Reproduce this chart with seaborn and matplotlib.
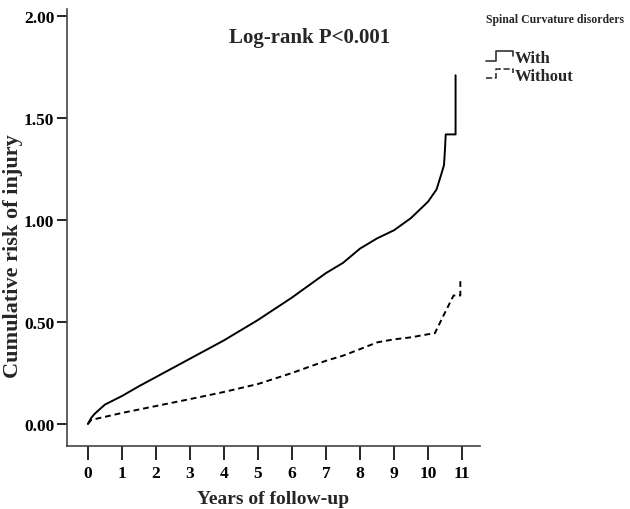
import numpy as np
import pandas as pd
import matplotlib
matplotlib.use("Agg")
import matplotlib.pyplot as plt
from matplotlib.lines import Line2D
from matplotlib.legend_handler import HandlerLine2D
import seaborn as sns

# -------------------- data --------------------
with_years = [0, 0.1, 0.2, 0.5, 1, 1.5, 2, 3, 4, 5, 6, 7, 7.5, 8, 8.5, 9, 9.5,
              10, 10.25, 10.4, 10.47, 10.5, 10.52, 10.81, 10.81]
with_risk = [0, 0.03, 0.05, 0.095, 0.137, 0.185, 0.23, 0.32, 0.41, 0.51, 0.62,
             0.74, 0.79, 0.86, 0.91, 0.95, 1.01, 1.09, 1.15, 1.23, 1.27, 1.35,
             1.42, 1.42, 1.71]

without_years = [0, 0.1, 0.5, 1, 2, 3, 4, 5, 6, 7, 7.5, 8, 8.5, 9, 9.5, 10,
                 10.2, 10.45, 10.75, 10.95, 10.95]
without_risk = [0, 0.02, 0.035, 0.054, 0.088, 0.122, 0.157, 0.196, 0.25, 0.31,
                0.335, 0.367, 0.40, 0.415, 0.425, 0.44, 0.445, 0.53, 0.63,
                0.63, 0.70]

x_ticks = list(range(0, 12))
y_ticks = [0.0, 0.5, 1.0, 1.5, 2.0]
group_labels = ["With", "Without"]

df = pd.concat([
    pd.DataFrame({"years": with_years, "risk": with_risk, "group": "With"}),
    pd.DataFrame({"years": without_years, "risk": without_risk, "group": "Without"}),
], ignore_index=True)


# SPSS-like step shaped legend handle
class StepHandler(HandlerLine2D):
    def create_artists(self, legend, orig_handle, xdescent, ydescent,
                       width, height, fontsize, trans):
        x0 = -xdescent
        xs = [x0, x0 + 0.35 * width, x0 + 0.35 * width, x0 + width, x0 + width]
        ys = [0.1 * height, 0.1 * height, 0.95 * height, 0.95 * height, 0.55 * height]
        ln = Line2D(xs, ys, color=orig_handle.get_color(),
                    linestyle=orig_handle.get_linestyle(),
                    linewidth=orig_handle.get_linewidth())
        ln.set_transform(trans)
        return [ln]


sns.set_style("white")
plt.rcParams["font.family"] = ["Liberation Serif", "DejaVu Serif"]
plt.rcParams["font.weight"] = "bold"

fig = plt.figure(figsize=(6.3, 5.1), dpi=100)
ax = fig.add_axes([0.106, 0.1235, 0.656, 0.8565])

styles = {"With": "-", "Without": (0, (3, 2))}
for g in group_labels:
    sub = df[df["group"] == g]
    sns.lineplot(data=sub, x="years", y="risk", estimator=None, sort=False,
                 color="black", linestyle=styles[g], linewidth=1.4, ax=ax)

ax.set_xlim(-0.62, 11.53)
ax.set_ylim(-0.108, 2.034)
ax.set_xticks(x_ticks)
ax.set_yticks(y_ticks)
ax.set_yticklabels([f"{v:.2f}" for v in y_ticks])
ax.tick_params(axis="both", direction="out", width=1.2,
               labelsize=12.5, colors="black", bottom=True, left=True)
ax.tick_params(axis="x", length=10, pad=4)
ax.tick_params(axis="y", length=7, pad=2)
for lab in ax.get_xticklabels() + ax.get_yticklabels():
    lab.set_fontweight("bold")

sns.despine(ax=ax)
for s in ["left", "bottom"]:
    ax.spines[s].set_color("#444444")
    ax.spines[s].set_linewidth(1.2)

ax.set_xlabel("Years of follow-up", fontsize=14, fontweight="bold")
ax.xaxis.set_label_coords(0.5, -0.100)
ax.set_ylabel("Cumulative risk of injury", fontsize=16, fontweight="bold")
ax.yaxis.set_label_coords(-0.105, 0.437)

ax.text(0.588, 0.936, "Log-rank P<0.001", transform=ax.transAxes, ha="center",
        va="center", fontsize=15, fontweight="bold")

handles = [Line2D([], [], color="#333333", linestyle=styles[g], linewidth=1.2)
           for g in group_labels]
leg = fig.legend(handles, group_labels, loc="upper left",
                 bbox_to_anchor=(0.772, 0.972), frameon=False, borderpad=0,
                 borderaxespad=0,
                 title="Spinal Curvature disorders",
                 title_fontproperties={"weight": "bold", "size": 8.5},
                 prop={"weight": "bold", "size": 12}, handlelength=1.6,
                 handletextpad=0.1, labelspacing=0.08, alignment="left",
                 handler_map={Line2D: StepHandler()})
leg._legend_box.sep = 18

fig.savefig("out.png", dpi=100)
